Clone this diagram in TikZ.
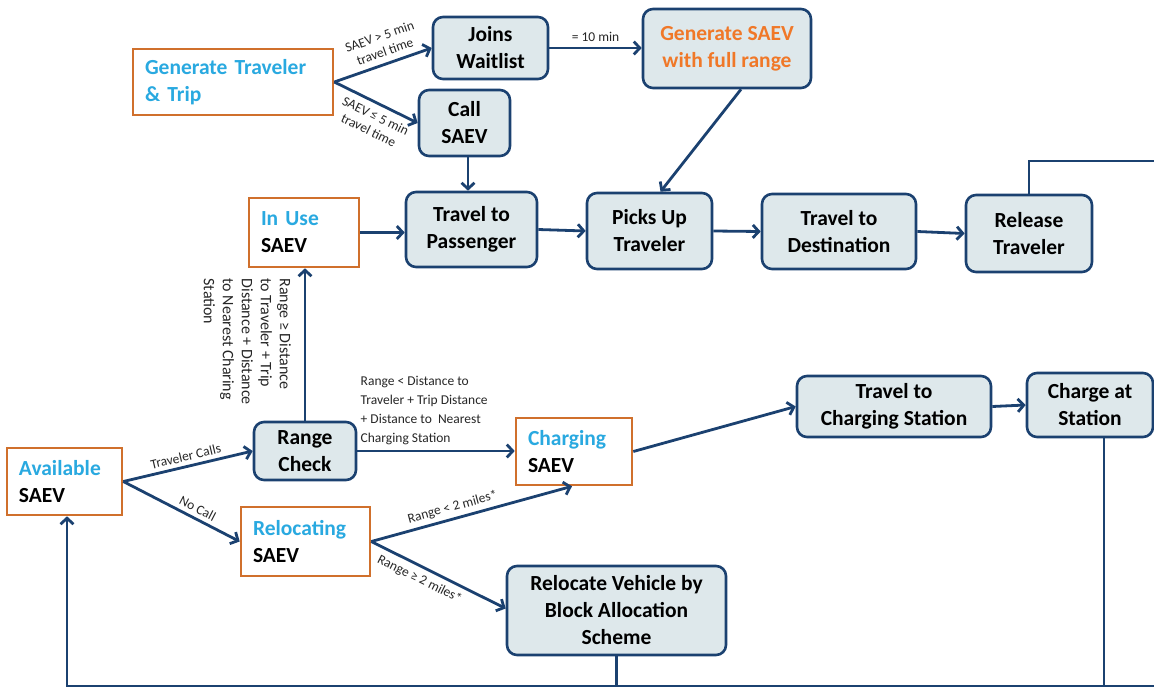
\documentclass[tikz,border=0pt]{standalone}
\usepackage{fontspec}
\setmainfont{Carlito}
\usetikzlibrary{positioning,calc,arrows.meta}

\definecolor{navy}{HTML}{1B4170}
\definecolor{boxfill}{HTML}{DEE8EB}
\definecolor{rust}{HTML}{D0702C}
\definecolor{skyblue}{HTML}{29A9E0}
\definecolor{tangerine}{HTML}{F07828}

\tikzset{
  procbox/.style={draw=navy, fill=boxfill, line width=2.6pt, rounded corners=10pt,
    align=center, font=\bfseries\fontsize{21.5}{27}\selectfont},
  statebox/.style={draw=rust, fill=white, line width=2.6pt, align=left,
    inner xsep=12pt, font=\bfseries\fontsize{21.5}{27}\selectfont},
  link/.style={draw=navy, line width=2.8pt},
  flow/.style={link, ->},
  lbl/.style={font=\fontsize{13.5}{16}\selectfont, text=black!85, inner sep=2pt},
  widelbl/.style={lbl, font=\fontsize{13.5}{19}\selectfont}
}

\begin{document}
\begin{tikzpicture}[x=1pt, y=-1pt, >={Straight Barb[length=6pt,width=13pt]}]
    \useasboundingbox (0,0) rectangle (1154,688);

    %coordinates
    \coordinate (GEN)  at (233,82);
    \coordinate (WAIT) at (490.5,48);
    \coordinate (FULL) at (727,48.5);
    \coordinate (CALL) at (464.5,123);
    \coordinate (USE)  at (304,232.5);
    \coordinate (PASS) at (471.5,229.5);
    \coordinate (PICK) at (649.5,231);
    \coordinate (DEST) at (839,231.5);
    \coordinate (REL)  at (1029,233.5);
    \coordinate (CHK)  at (305,451);
    \coordinate (AVL)  at (64.5,481.5);
    \coordinate (CHG)  at (574,451.5);
    \coordinate (RLC)  at (305.5,541.5);
    \coordinate (TCS)  at (894,406.5);
    \coordinate (CAS)  at (1090,405);
    \coordinate (BLK)  at (616.5,610.5);

    \coordinate (topexit) at (1154,161);
    \coordinate (botL)    at (67,686);
    \coordinate (botR)    at (1154,686);

    %nodes
    \node[statebox, minimum height=66pt, text width=176pt, text=skyblue] (gen) at (GEN) {Generate Traveler\\\& Trip};
    \node[procbox, minimum width=115pt, minimum height=62pt] (wait) at (WAIT) {Joins\\Waitlist};
    \node[procbox, minimum width=168pt, minimum height=79pt, text=tangerine] (full) at (FULL) {Generate SAEV\\with full range};
    \node[procbox, minimum width=91pt, minimum height=66pt] (call) at (CALL) {Call\\SAEV};
    \node[statebox, minimum height=69pt, text width=86pt] (inuse) at (USE) {\textcolor{skyblue}{In Use}\\SAEV};
    \node[procbox, minimum width=131pt, minimum height=75pt] (pass) at (PASS) {Travel to\\Passenger};
    \node[procbox, minimum width=125pt, minimum height=76pt] (pick) at (PICK) {Picks Up\\Traveler};
    \node[procbox, minimum width=154pt, minimum height=75pt] (dest) at (DEST) {Travel to\\Destination};
    \node[procbox, minimum width=126pt, minimum height=77pt] (rel) at (REL) {Release\\Traveler};
    \node[procbox, minimum width=102pt, minimum height=58pt] (check) at (CHK) {Range\\Check};
    \node[statebox, minimum height=67pt, text width=91pt] (avail) at (AVL) {\textcolor{skyblue}{Available}\\SAEV};
    \node[statebox, minimum height=67pt, text width=92pt] (charging) at (CHG) {\textcolor{skyblue}{Charging}\\SAEV};
    \node[statebox, minimum height=69pt, text width=105pt] (reloc) at (RLC) {\textcolor{skyblue}{Relocating}\\SAEV};
    \node[procbox, minimum width=194pt, minimum height=61pt] (tcs) at (TCS) {Travel to\\Charging Station};
    \node[procbox, minimum width=126pt, minimum height=64pt] (cas) at (CAS) {Charge at\\Station};
    \node[procbox, minimum width=219pt, minimum height=89pt] (block) at (BLK) {Relocate Vehicle by\\Block Allocation\\Scheme};

    \node[lbl, font=\fontsize{16}{19}\selectfont, rotate=-90, anchor=north west, align=left] (rangeok)
      at ($(check.north |- inuse.south) + (-12,8)$)
      {Range ≥ Distance\\to Traveler + Trip\\Distance + Distance\\to Nearest Charing\\Station};

    %edges
    \draw[flow] (gen.east) -- node[lbl, sloped, above=4pt, align=center, pos=0.56] {SAEV > 5 min\\travel time} (wait.west);
    \draw[flow] (gen.east) -- node[lbl, sloped, below=4pt, align=center, pos=0.56] {SAEV ≤ 5 min\\travel time} (call.west);
    \draw[flow] (wait.east) -- node[lbl, above=3pt] {= 10 min} (wait.east -| full.west);
    \draw[flow] ($(full.south) + (14,0)$) -- ($(pick.north) + (11,0)$);
    \draw[flow] ($(call.south) + (3.5,0)$) -- ($(call.south |- pass.north) + (3.5,0)$);

    \draw[flow] (inuse.east) -- (inuse.east -| pass.west);
    \draw[flow] (pass.east) -- (pick.west);
    \draw[flow] (pick.east) -- (dest.west);
    \draw[flow] (dest.east) -- (rel.west);
    \draw[link] (rel.north) |- (topexit);

    \draw[flow] (check.north) -- (check.north |- inuse.south);
    \draw[flow] (check.east) -- node[widelbl, pos=0, anchor=south west, align=left, yshift=3pt]
      {Range < Distance to\\Traveler + Trip Distance\\+ Distance to~ Nearest\\Charging Station} (check.east -| charging.west);
    \draw[flow] (avail.east) -- node[lbl, sloped, above=2pt] {Traveler Calls} (check.west);
    \draw[flow] (avail.east) -- node[lbl, sloped, above=2pt, pos=0.6] {No Call} (reloc.west);
    \draw[flow] (reloc.east) -- node[lbl, sloped, above=2pt, pos=0.42] {Range < 2 miles*} ($(charging.south) + (-2,0)$);
    \draw[flow] (reloc.east) -- node[lbl, sloped, below=3pt, pos=0.4] {Range ≥ 2 miles*} ($(block.west) + (0,-2)$);
    \draw[flow] (charging.east) -- (tcs.west);
    \draw[flow] (tcs.east) -- (cas.west);

    \draw[link] ($(cas.south) + (14,0)$) -- ($(cas.south |- botR) + (14,0)$);
    \draw[link] (block.south) -- (block.south |- botR);
    \draw[flow] (botR) -- (botL) -- (botL |- avail.south);
\end{tikzpicture}
\end{document}
